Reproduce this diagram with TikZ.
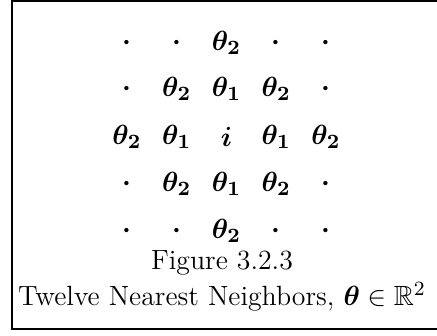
\documentclass[tikz,border=0pt]{standalone}
\usepackage{amsmath, amssymb}
\usepackage{tikz}
\usetikzlibrary{positioning}

\begin{document}
\begin{tikzpicture}[
    x=0.0139cm, y=-0.0139cm,
    cell/.style={inner sep=0pt, font=\fontsize{11}{13}\selectfont\boldmath},
    caption/.style={inner sep=0pt, font=\fontsize{11}{13}\selectfont},
    frame/.style={line width=0.8pt}
]
\useasboundingbox (0,0) rectangle (437,336);

% Frame (right side runs off the page)
\draw[frame] (437,1) -- (12,1) -- (12,329) -- (437,329);

% Grid of neighbors
\foreach \lab [count=\c] in {\cdot,\cdot,\theta_2,\cdot,\cdot}
  \node[cell] (r1c\c) at ({127+49.75*(\c-1)},43) {$\lab$};
\foreach \lab [count=\c] in {\cdot,\theta_2,\theta_1,\theta_2,\cdot}
  \node[cell] (r2c\c) at ({127+49.75*(\c-1)},89) {$\lab$};
\foreach \lab [count=\c] in {\theta_2,\theta_1,i,\theta_1,\theta_2}
  \node[cell] (r3c\c) at ({127+49.75*(\c-1)},137) {$\lab$};
\foreach \lab [count=\c] in {\cdot,\theta_2,\theta_1,\theta_2,\cdot}
  \node[cell] (r4c\c) at ({127+49.75*(\c-1)},184) {$\lab$};
\foreach \lab [count=\c] in {\cdot,\cdot,\theta_2,\cdot,\cdot}
  \node[cell] (r5c\c) at ({127+49.75*(\c-1)},231) {$\lab$};

% Caption
\node[caption] (fig) at (222,263) {Figure 3.2.3};
\node[caption] (cap) at (222,297) {Twelve Nearest Neighbors, $\boldsymbol{\theta}\in\mathbb{R}^2$};
\end{tikzpicture}
\end{document}
